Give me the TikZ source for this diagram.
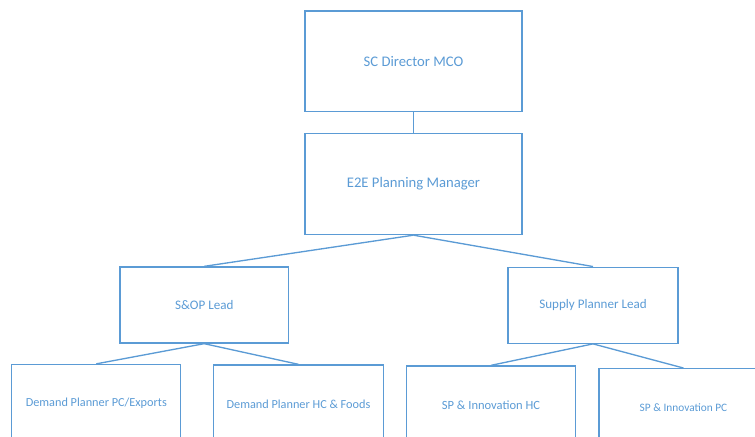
\documentclass[tikz,border=0pt]{standalone}
\usepackage{fontspec}
\setmainfont{Carlito}
\definecolor{orgblue}{RGB}{91,155,213}
\tikzset{every picture/.style={line width=0.75pt}}
\tikzset{
  rolebox/.style={draw=orgblue, line width=1pt, text=orgblue, inner sep=0.75pt, align=center},
  link/.style={draw=orgblue, line width=1pt}
}
\begin{document}
\begin{tikzpicture}[x=0.75pt,y=0.75pt,yscale=-1,xscale=1]
\useasboundingbox (0,0) rectangle (755,436);
\clip (0,0) rectangle (755,436);

%Shape: Rectangle [id:director]
\node [rolebox, minimum width=217*0.75pt, minimum height=100.5*0.75pt, font=\fontsize{11}{13}\selectfont] (director) at (413.5,61.2) {SC Director MCO};
%Shape: Rectangle [id:planmgr]
\node [rolebox, minimum width=217*0.75pt, minimum height=101*0.75pt, font=\fontsize{11}{13}\selectfont] (planmgr) at (413.5,184) {E2E Planning Manager};
%Shape: Rectangle [id:soplead]
\node [rolebox, minimum width=168.5*0.75pt, minimum height=76*0.75pt, font=\fontsize{9.8}{12}\selectfont] (soplead) at (204.2,305) {S\&OP Lead};
%Shape: Rectangle [id:suplead]
\node [rolebox, minimum width=170*0.75pt, minimum height=76*0.75pt, font=\fontsize{9.8}{12}\selectfont] (suplead) at (593,305.2) {Supply Planner Lead};
%Shape: Rectangle [id:dpexports]
\node [rolebox, minimum width=169*0.75pt, minimum height=78*0.75pt, font=\fontsize{9.2}{11}\selectfont] (dpexports) at (96.3,403.5) {Demand Planner PC/Exports};
%Shape: Rectangle [id:dpfoods]
\node [rolebox, minimum width=169.5*0.75pt, minimum height=78*0.75pt, font=\fontsize{9.2}{11}\selectfont] (dpfoods) at (298.5,404) {Demand Planner HC \& Foods};
%Shape: Rectangle [id:innohc]
\node [rolebox, minimum width=168.5*0.75pt, minimum height=78*0.75pt, font=\fontsize{9.4}{11}\selectfont] (innohc) at (491,405) {SP \& Innovation HC};
%Shape: Rectangle [id:innopc]
\node [rolebox, minimum width=169*0.75pt, minimum height=78*0.75pt, font=\fontsize{8.5}{10}\selectfont] (innopc) at (683.5,407.7) {SP \& Innovation PC};

%Straight Lines
\draw [link] (director.south) -- (planmgr.north) ;
\draw [link] (planmgr.south) -- (soplead.north) ;
\draw [link] (planmgr.south) -- (suplead.north) ;
\draw [link] (soplead.south) -- (dpexports.north) ;
\draw [link] (soplead.south) -- (dpfoods.north) ;
\draw [link] (suplead.south) -- (innohc.north) ;
\draw [link] (suplead.south) -- (innopc.north) ;

\end{tikzpicture}
\end{document}
